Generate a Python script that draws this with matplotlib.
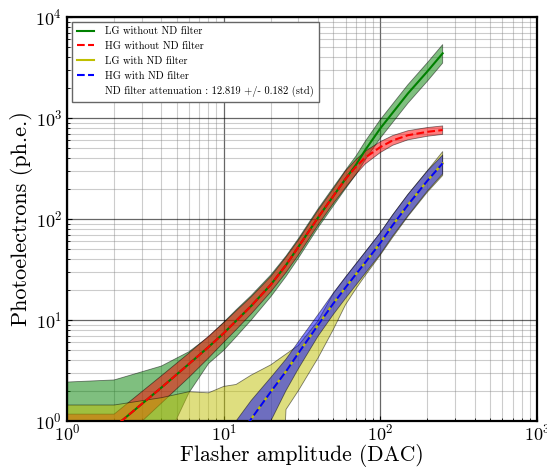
import numpy as np
import matplotlib
matplotlib.use('Agg')
import matplotlib.pyplot as plt

plt.rcParams['font.family'] = 'cmr10'
plt.rcParams['mathtext.fontset'] = 'cm'
plt.rcParams['axes.unicode_minus'] = False

#%% values
dac = [1, 2, 4, 6, 8, 10, 12, 15, 20, 25, 30, 40, 50, 60, 70, 80, 100, 120, 150, 200, 250]

# LG without ND filter
lg_mid = [0.3, 0.87, 2.14, 3.67, 5.4, 7.4, 9.8, 13.8, 22.4, 35, 53, 103, 168, 250, 345, 480, 790, 1130, 1750, 2900, 4370]
lg_hi = [2.43, 2.55, 3.5, 4.85, 6.8, 9.5, 12.6, 17.5, 28, 43, 64, 126, 205, 305, 421, 586, 964, 1379, 2135, 3540, 5330]
lg_lo = [0.001, 0.001, 0.5, 1.9, 3.7, 5.0, 6.8, 10, 17, 27, 41, 82, 134, 200, 276, 384, 632, 904, 1400, 2320, 3500]

# HG without ND filter
hg_mid = [0.3, 0.87, 2.14, 3.67, 5.4, 7.4, 9.8, 13.8, 22.4, 35, 53, 103, 168, 250, 330, 405, 515, 600, 675, 730, 760]
hg_hi = [1.17, 1.17, 2.8, 4.7, 6.9, 9.4, 12.3, 17, 27, 42, 62, 122, 198, 300, 388, 468, 583, 670, 748, 805, 835]
hg_lo = [0.001, 0.55, 1.5, 2.7, 4.2, 6.0, 8.0, 11.5, 19, 29.5, 44, 87, 142, 205, 278, 350, 455, 537, 608, 660, 688]

# LG with ND filter
lgnd_mid = [0.01, 0.02, 0.08, 0.18, 0.3, 0.45, 0.66, 1.05, 1.95, 3.1, 4.7, 8.9, 14.5, 21, 28.5, 37, 58, 87, 138, 240, 356]
lgnd_hi = [1.44, 1.44, 1.7, 1.95, 1.9, 2.2, 2.3, 2.85, 3.6, 4.6, 5.6, 9.8, 18.2, 26.5, 36, 47, 73, 110, 175, 302, 465]
lgnd_lo = [0.001, 0.001, 0.001, 0.001, 0.001, 0.001, 0.001, 0.001, 0.001, 1.3, 2.0, 4.2, 8.0, 14.2, 20.5, 27.5, 44, 66, 106, 185, 270]

# HG with ND filter
hgnd_mid = [0.01, 0.02, 0.08, 0.18, 0.3, 0.45, 0.66, 1.05, 1.95, 3.1, 4.7, 8.9, 14.5, 21, 28.5, 37, 58, 87, 138, 240, 356]
hgnd_hi = [0.05, 0.06, 0.15, 0.3, 0.48, 0.72, 1.0, 1.6, 2.7, 4.1, 6.1, 11.3, 18.4, 26.7, 36.2, 47, 73.5, 110, 175, 300, 430]
hgnd_lo = [0.001, 0.001, 0.001, 0.001, 0.001, 0.001, 0.2, 0.55, 1.0, 2.0, 3.3, 6.9, 11.3, 16.4, 22.2, 28.9, 45, 68, 108, 190, 280]

att_label = 'ND filter attenuation : 12.819 +/- 0.182 (std)'

#%%
fig = plt.figure(figsize=(5.47, 4.67), dpi=100)
ax = fig.add_axes([0.1225, 0.0985, 0.8592, 0.8651])

bands = [(lg_lo, lg_hi, 'g'), (hg_lo, hg_hi, 'r'), (lgnd_lo, lgnd_hi, 'y'), (hgnd_lo, hgnd_hi, 'b')]
for lo, hi, c in bands:
    ax.fill_between(dac, lo, hi, facecolor=c, edgecolor='k', linewidth=0.6, alpha=0.5, zorder=2)

ax.plot(dac, lg_mid, 'g-', linewidth=1.5, label='LG without ND filter', zorder=3)
ax.plot(dac, hg_mid, 'r--', linewidth=1.5, label='HG without ND filter', zorder=3)
ax.plot(dac, lgnd_mid, 'y-', linewidth=1.5, label='LG with ND filter', zorder=3)
ax.plot(dac, hgnd_mid, 'b--', linewidth=1.5, label='HG with ND filter', zorder=3)
ax.plot([], [], color='none', label=att_label)

ax.set_xscale('log')
ax.set_yscale('log')
ax.set_xlim(1, 1000)
ax.set_ylim(1, 10000)

ax.grid(True, which='major', color='k', linewidth=0.9, alpha=0.6)
ax.grid(True, which='minor', color='0.5', linewidth=0.8, alpha=0.4)
ax.set_axisbelow(True)

for s in ax.spines.values():
    s.set_linewidth(1.6)
ax.tick_params(which='both', direction='in', labelsize=13)
ax.tick_params(axis='x', pad=1)

ax.set_xlabel('Flasher amplitude (DAC)', fontsize=15.5, labelpad=0.5)
ax.set_ylabel('Photoelectrons (ph.e.)', fontsize=16, labelpad=2)

leg = ax.legend(loc='upper left', fontsize=7.5, handlelength=1.6, handletextpad=1.1,
                borderaxespad=0.45, borderpad=0.5, labelspacing=0.5,
                fancybox=False, framealpha=1)
leg.get_frame().set_edgecolor('0.4')

fig.savefig('out.png', dpi=100)
